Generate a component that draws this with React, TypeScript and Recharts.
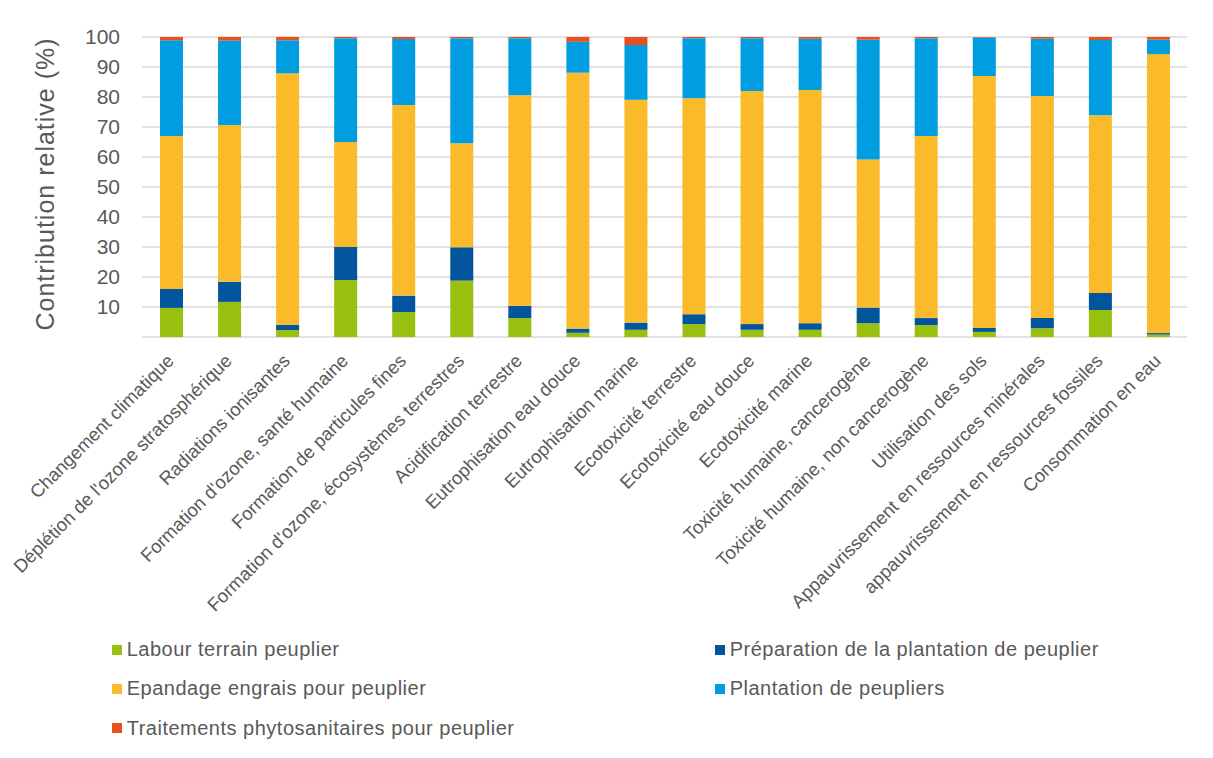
import React from 'react';
import { BarChart, Bar, XAxis, YAxis, CartesianGrid, Legend } from 'recharts';

const CATEGORIES = [
  'Changement climatique',
  "Déplétion de l'ozone stratosphérique",
  'Radiations ionisantes',
  "Formation d'ozone, santé humaine",
  'Formation de particules fines',
  "Formation d'ozone, écosystèmes terrestres",
  'Acidification terrestre',
  'Eutrophisation eau douce',
  'Eutrophisation marine',
  'Ecotoxicité terrestre',
  'Ecotoxicité eau douce',
  'Ecotoxicité marine',
  'Toxicité humaine, cancerogène',
  'Toxicité humaine, non cancerogène',
  'Utilisation des sols',
  'Appauvrissement en ressources minérales',
  'appauvrissement en ressources fossiles',
  'Consommation en eau',
];

const LABOUR = [9.7, 11.7, 2.3, 19, 8.3, 18.8, 6.3, 1.4, 2.4, 4.3, 2.4, 2.4, 4.6, 4.0, 1.7, 2.9, 9.0, 0.8];
const PREPARATION = [6.3, 6.7, 1.8, 11, 5.5, 11.1, 4.1, 1.4, 2.4, 3.3, 1.9, 2.2, 5.2, 2.3, 1.3, 3.4, 5.7, 0.5];
const EPANDAGE = [51, 52.3, 83.8, 35, 63.5, 34.7, 70.2, 85.3, 74.3, 72, 77.7, 77.7, 49.4, 60.7, 84, 74, 59.2, 93];
const PLANTATION = [31.9, 28.1, 11, 34.6, 22, 35, 19, 10.3, 18.2, 20, 17.6, 17.1, 39.9, 32.6, 12.8, 19.1, 25.1, 4.8];
const TRAITEMENTS = [1.1, 1.2, 1.1, 0.4, 0.7, 0.4, 0.4, 1.6, 2.7, 0.4, 0.4, 0.6, 0.9, 0.4, 0.2, 0.6, 1.0, 0.9];

const Y_TICKS = [0, 10, 20, 30, 40, 50, 60, 70, 80, 90, 100];

const SERIES = [
  { key: 'labour', name: 'Labour terrain peuplier', color: '#97c00f', values: LABOUR },
  { key: 'preparation', name: 'Préparation de la plantation de peuplier', color: '#02559d', values: PREPARATION },
  { key: 'epandage', name: 'Epandage engrais pour peuplier', color: '#fbba2a', values: EPANDAGE },
  { key: 'plantation', name: 'Plantation de peupliers', color: '#009ee0', values: PLANTATION },
  { key: 'traitements', name: 'Traitements phytosanitaires pour peuplier', color: '#e8501f', values: TRAITEMENTS },
];

const data = CATEGORIES.map((name, i) => {
  const row: Record<string, any> = { name };
  SERIES.forEach((s) => {
    row[s.key] = s.values[i];
  });
  return row;
});

const FONT = '"Liberation Sans", Arial, sans-serif';
const TEXT = '#595959';

const XTick = (props: any) => {
  const { x, y, payload } = props;
  return (
    <g transform={`translate(${x + 4},${y + 25})`}>
      <text textAnchor="end" transform="rotate(-45)" fontSize={18.5} fill={TEXT} fontFamily={FONT}>
        {payload.value}
      </text>
    </g>
  );
};

const YTitle = (props: any) => {
  const vb = props.viewBox || { x: 0, y: 29, width: 134, height: 300 };
  const x = 45.5;
  const y = vb.y + vb.height / 2 - 3;
  return (
    <text
      x={x}
      y={y}
      transform={`rotate(-90, ${x}, ${y})`}
      textAnchor="middle"
      fontSize={25}
      letterSpacing={1}
      fill={TEXT}
      fontFamily={FONT}
    >
      Contribution relative (%)
    </text>
  );
};

const LegendContent = () => (
  <div
    style={{
      display: 'grid',
      gridTemplateColumns: '603px 480px',
      gridAutoRows: '39.3px',
      fontFamily: FONT,
      fontSize: 20,
      letterSpacing: 0.5,
      color: TEXT,
    }}
  >
    {SERIES.map((s) => (
      <div key={s.key} style={{ display: 'flex', alignItems: 'center', whiteSpace: 'nowrap' }}>
        <span style={{ display: 'inline-block', width: 10, height: 10, background: s.color, marginRight: 5 }} />
        <span>{s.name}</span>
      </div>
    ))}
  </div>
);

export default function App() {
  return (
    <div style={{ position: 'relative', width: 1197, height: 742, fontFamily: FONT }}>
      <div
        style={{
          position: 'absolute',
          left: -1,
          top: -1,
          width: 1198,
          height: 743,
          borderTop: '1px solid #d9d9d9',
          borderLeft: '1px solid #d9d9d9',
          boxSizing: 'border-box',
          pointerEvents: 'none',
        }}
      />
      <BarChart
        width={1197}
        height={742}
        data={data}
        margin={{ top: 29, right: 18, left: 0, bottom: 0 }}
        barSize={23}
      >
        <CartesianGrid vertical={false} stroke="#d9d9d9" strokeWidth={1.5} />
        <XAxis
          dataKey="name"
          interval={0}
          height={413}
          tickLine={false}
          axisLine={false}
          tickSize={0}
          tickMargin={0}
          tick={<XTick />}
        />
        <YAxis
          width={134}
          domain={[0, 100]}
          ticks={Y_TICKS}
          interval={0}
          tickLine={false}
          axisLine={false}
          tickSize={0}
          tickMargin={22}
          tickFormatter={(v: number) => (v === 0 ? '' : String(v))}
          tick={{ fontSize: 21, fill: TEXT, fontFamily: FONT }}
          label={<YTitle />}
        />
        <Legend
          layout="horizontal"
          verticalAlign="middle"
          align="center"
          content={<LegendContent />}
          wrapperStyle={{ top: 622, left: 103.7, width: 1090, height: 120 }}
        />
        {SERIES.map((s) => (
          <Bar key={s.key} dataKey={s.key} name={s.name} stackId="a" fill={s.color} isAnimationActive={false} />
        ))}
      </BarChart>
    </div>
  );
}
